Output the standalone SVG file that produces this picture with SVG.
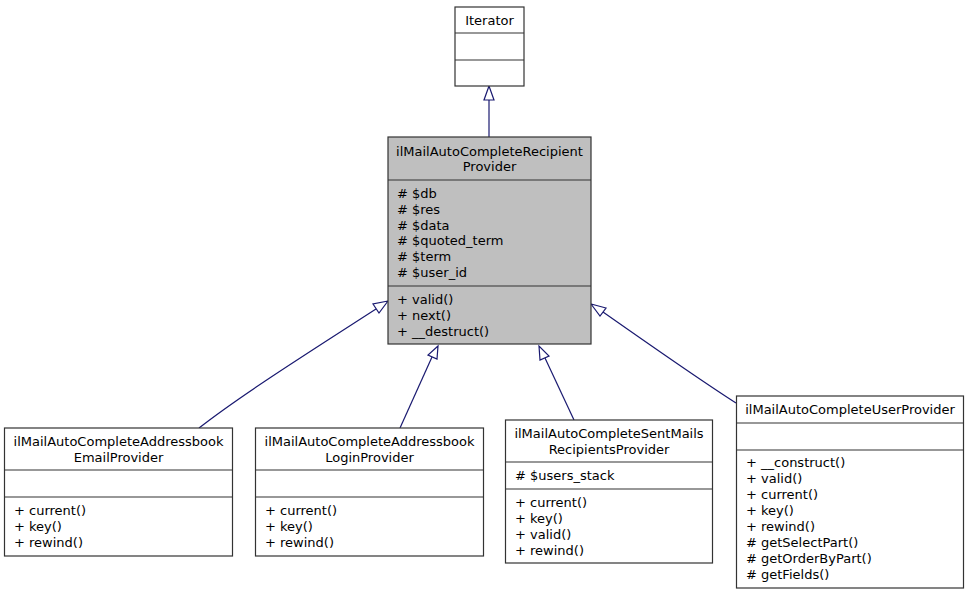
<svg xmlns="http://www.w3.org/2000/svg" width="968" height="595" viewBox="0 0 968 595">
<style>
text{font-family:"DejaVu Sans",sans-serif;font-size:13px;fill:#000}
.c{text-anchor:middle}
.box{fill:#fff;stroke:#333;stroke-width:1.2}
.focus{fill:#bfbfbf;stroke:#333;stroke-width:1.2}
.div{stroke:#333;stroke-width:1.2}
.edge{fill:none;stroke:#191970;stroke-width:1.2}
.ah{fill:#fff;stroke:#191970;stroke-width:1.2}
</style>
<rect width="968" height="595" fill="#fff"/>
<g id="edges">
<path class="edge" d="M489,137 L489,100"/>
<polygon class="ah" points="489,86 484,100 494,100"/>
<path class="edge" d="M199,428 C240,396 300,358 376,309"/>
<polygon class="ah" points="388,301 373,304 379,313"/>
<path class="edge" d="M400,428 L432,357"/>
<polygon class="ah" points="438,346 428,355 437,359"/>
<path class="edge" d="M574,420 L545,358"/>
<polygon class="ah" points="539,346 540,360 549,356"/>
<path class="edge" d="M736,403 C700,380 650,345 603,312"/>
<polygon class="ah" points="591,304 600,316 606,308"/>
</g>
<g id="Iterator">
<rect class="box" x="455" y="7" width="69" height="79"/>
<line class="div" x1="455" y1="33" x2="524" y2="33"/>
<line class="div" x1="455" y1="60" x2="524" y2="60"/>
<text class="c" x="489.5" y="25">Iterator</text>
</g>
<g id="RecipientProvider">
<rect class="focus" x="388" y="137" width="203" height="207"/>
<line class="div" x1="388" y1="180" x2="591" y2="180"/>
<line class="div" x1="388" y1="286" x2="591" y2="286"/>
<text class="c" x="489.5" y="156">ilMailAutoCompleteRecipient</text>
<text class="c" x="489.5" y="171">Provider</text>
<text x="397" y="198">#  $db</text>
<text x="397" y="214">#  $res</text>
<text x="397" y="230">#  $data</text>
<text x="397" y="245">#  $quoted_term</text>
<text x="397" y="261">#  $term</text>
<text x="397" y="277">#  $user_id</text>
<text x="397" y="304">+ valid()</text>
<text x="397" y="320">+ next()</text>
<text x="397" y="336">+ __destruct()</text>
</g>
<g id="EmailProvider">
<rect class="box" x="4.5" y="428" width="228" height="128"/>
<line class="div" x1="4.5" y1="470" x2="232.5" y2="470"/>
<line class="div" x1="4.5" y1="497" x2="232.5" y2="497"/>
<text class="c" x="118.5" y="446">ilMailAutoCompleteAddressbook</text>
<text class="c" x="118.5" y="462">EmailProvider</text>
<text x="14" y="515">+ current()</text>
<text x="14" y="531">+ key()</text>
<text x="14" y="547">+ rewind()</text>
</g>
<g id="LoginProvider">
<rect class="box" x="255.5" y="428" width="228" height="128"/>
<line class="div" x1="255.5" y1="470" x2="483.5" y2="470"/>
<line class="div" x1="255.5" y1="497" x2="483.5" y2="497"/>
<text class="c" x="369.5" y="446">ilMailAutoCompleteAddressbook</text>
<text class="c" x="369.5" y="462">LoginProvider</text>
<text x="265" y="515">+ current()</text>
<text x="265" y="531">+ key()</text>
<text x="265" y="547">+ rewind()</text>
</g>
<g id="SentMailsRecipientsProvider">
<rect class="box" x="505.5" y="420" width="207" height="143"/>
<line class="div" x1="505.5" y1="462" x2="712.5" y2="462"/>
<line class="div" x1="505.5" y1="489" x2="712.5" y2="489"/>
<text class="c" x="609" y="438">ilMailAutoCompleteSentMails</text>
<text class="c" x="609" y="454">RecipientsProvider</text>
<text x="515" y="480">#  $users_stack</text>
<text x="515" y="507">+ current()</text>
<text x="515" y="523">+ key()</text>
<text x="515" y="539">+ valid()</text>
<text x="515" y="555">+ rewind()</text>
</g>
<g id="UserProvider">
<rect class="box" x="736.5" y="396" width="227" height="192"/>
<line class="div" x1="736.5" y1="423" x2="963.5" y2="423"/>
<line class="div" x1="736.5" y1="450" x2="963.5" y2="450"/>
<text class="c" x="850" y="414">ilMailAutoCompleteUserProvider</text>
<text x="746" y="467">+ __construct()</text>
<text x="746" y="483">+ valid()</text>
<text x="746" y="499">+ current()</text>
<text x="746" y="515">+ key()</text>
<text x="746" y="531">+ rewind()</text>
<text x="746" y="547">#  getSelectPart()</text>
<text x="746" y="563">#  getOrderByPart()</text>
<text x="746" y="579">#  getFields()</text>
</g>
</svg>
